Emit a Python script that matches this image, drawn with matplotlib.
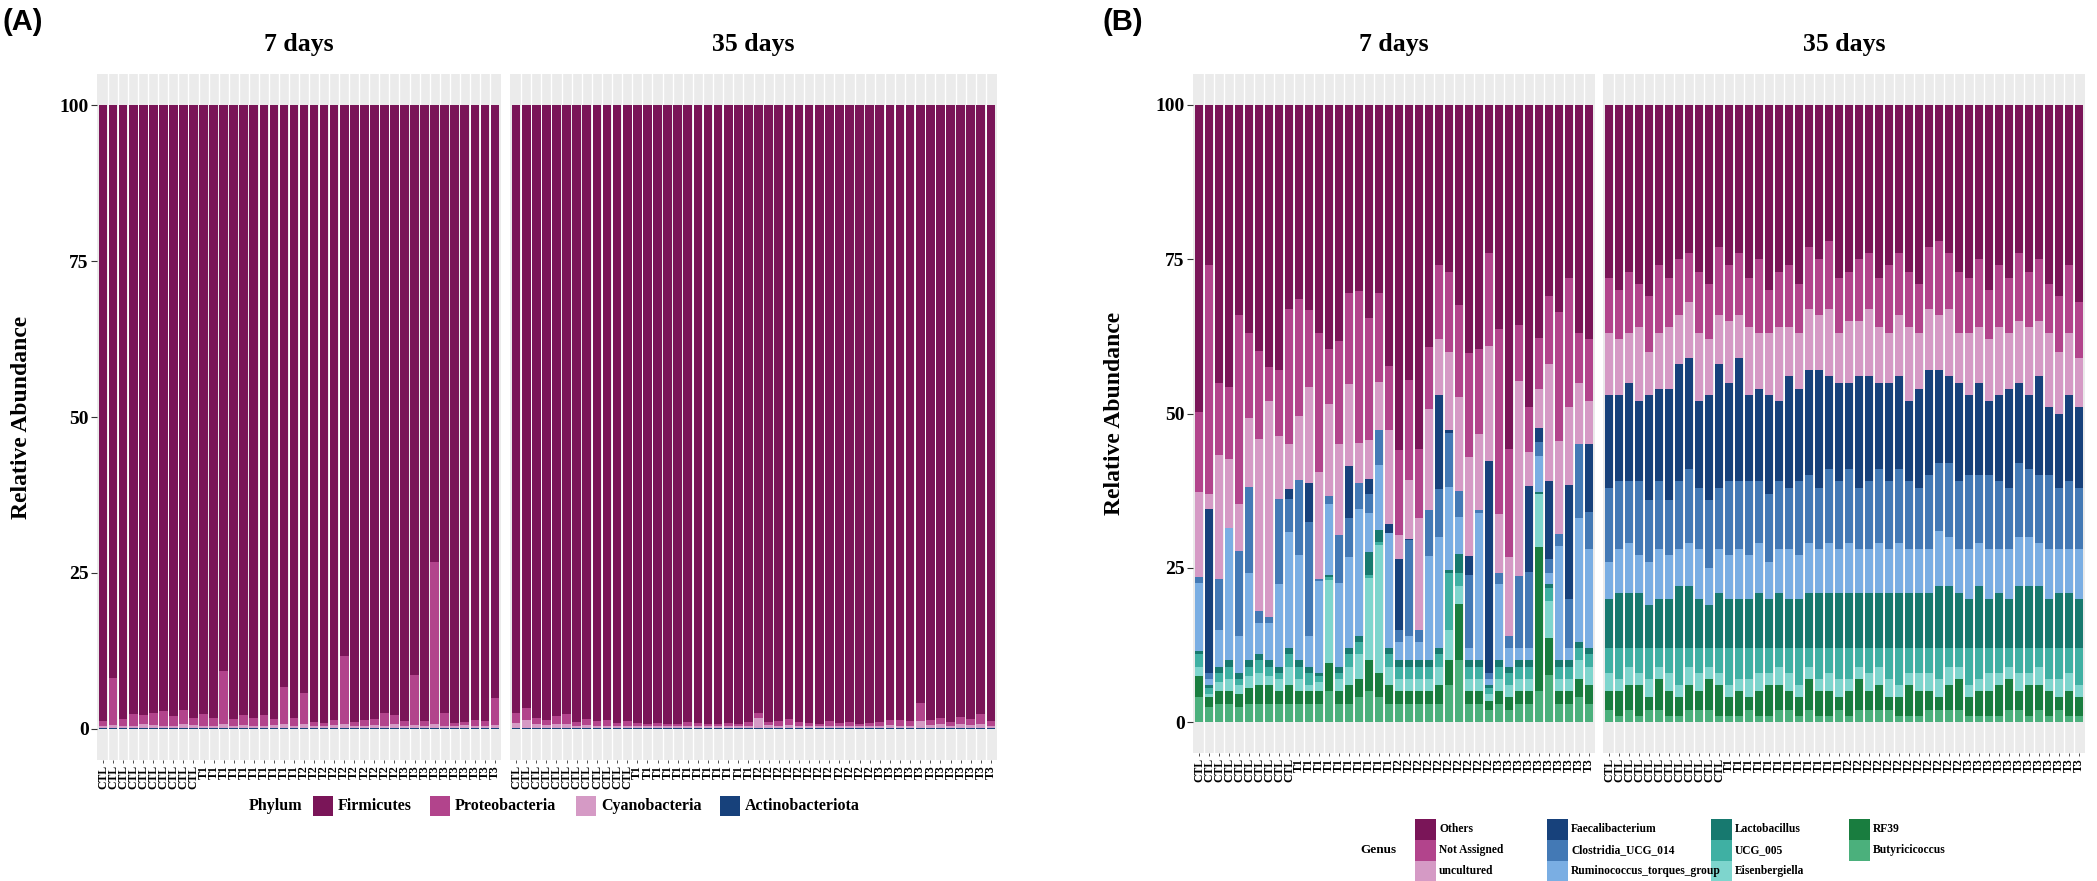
import numpy as np
import matplotlib
matplotlib.use("Agg")
import matplotlib.pyplot as plt
from matplotlib.patches import Rectangle

# ---------------- data ----------------
labels_7d = ["CTL"] * 10 + ["T1"] * 10 + ["T2"] * 10 + ["T3"] * 10
labels_35d = ["CTL"] * 12 + ["T1"] * 12 + ["T2"] * 12 + ["T3"] * 12

phyla = ["Firmicutes", "Proteobacteria", "Cyanobacteria", "Actinobacteriota"]
phylum_colors = ["#7A1558", "#B2448C", "#D59AC5", "#17417B"]

# panel A, 7 days
firm_7d = [98.7, 91.9, 98.4, 97.7, 97.8, 97.4, 97.1, 98.0, 97.0, 98.3,
           97.6, 98.2, 90.8, 98.5, 97.8, 98.3, 97.8, 98.5, 93.3, 98.3,
           94.2, 98.9, 99.0, 98.6, 88.3, 98.9, 98.6, 98.5, 97.4, 97.8,
           98.8, 91.4, 98.8, 73.3, 97.5, 99.0, 98.9, 98.6, 98.8, 95.1]
prot_7d = [0.8, 7.5, 1.2, 1.8, 1.5, 2.0, 2.4, 1.6, 2.2, 1.1,
           1.9, 1.4, 8.5, 1.0, 1.6, 1.3, 1.7, 0.9, 6.0, 1.2,
           5.0, 0.7, 0.5, 0.8, 11.0, 0.6, 1.0, 0.9, 2.1, 1.5,
           0.8, 8.0, 0.7, 26.0, 2.0, 0.6, 0.5, 0.9, 0.8, 4.3]
cyan_7d = [0.3, 0.4, 0.2, 0.3, 0.5, 0.4, 0.3, 0.2, 0.6, 0.4,
           0.3, 0.2, 0.5, 0.3, 0.4, 0.2, 0.3, 0.4, 0.5, 0.3,
           0.6, 0.2, 0.3, 0.4, 0.5, 0.3, 0.2, 0.4, 0.3, 0.5,
           0.2, 0.4, 0.3, 0.5, 0.3, 0.2, 0.4, 0.3, 0.2, 0.4]
acti_7d = [0.2] * 40

# panel A, 35 days
firm_35d = [97.5, 96.6, 98.3, 98.6, 98.0, 97.6, 98.9, 98.4, 98.8, 98.6, 99.1, 98.7,
            99.0, 99.2, 99.0, 99.3, 99.2, 98.9, 99.1, 99.2, 99.3, 99.0, 99.2, 98.9,
            97.5, 98.9, 98.8, 98.5, 98.9, 99.1, 99.2, 98.8, 99.1, 98.9, 99.2, 99.1,
            98.9, 98.6, 98.6, 98.8, 95.8, 98.6, 98.3, 98.9, 98.1, 98.5, 97.7, 98.8]
prot_35d = [1.5, 2.0, 1.0, 0.8, 1.2, 1.6, 0.6, 1.0, 0.7, 0.9, 0.5, 0.8,
            0.6, 0.4, 0.5, 0.3, 0.4, 0.6, 0.5, 0.4, 0.3, 0.5, 0.4, 0.6,
            0.8, 0.5, 0.7, 0.9, 0.6, 0.5, 0.4, 0.7, 0.5, 0.6, 0.4, 0.5,
            0.6, 0.8, 0.9, 0.7, 3.0, 0.8, 1.0, 0.6, 1.2, 0.9, 1.5, 0.7]
cyan_35d = [0.8, 1.2, 0.5, 0.4, 0.6, 0.6, 0.3, 0.4, 0.3, 0.3, 0.2, 0.3,
            0.2, 0.2, 0.3, 0.2, 0.2, 0.3, 0.2, 0.2, 0.2, 0.3, 0.2, 0.3,
            1.5, 0.4, 0.3, 0.4, 0.3, 0.2, 0.2, 0.3, 0.2, 0.3, 0.2, 0.2,
            0.3, 0.4, 0.3, 0.3, 1.0, 0.4, 0.5, 0.3, 0.5, 0.4, 0.6, 0.3]
acti_35d = [0.2] * 48

genera = ["Others", "Not Assigned", "uncultured", "Faecalibacterium",
          "Clostridia_UCG_014", "Ruminococcus_torques_group", "Lactobacillus",
          "UCG_005", "Eisenbergiella", "RF39", "Butyricicoccus"]
genus_colors = ["#7A1558", "#B2448C", "#D59AC5", "#17417B", "#4379B5", "#7AAEE3",
                "#17796F", "#3FB0A3", "#7ED5CD", "#197D3F", "#4BB07C"]

# panel B, 7 days
oth_7d = [49.7, 26, 45.1, 45.7, 34.1, 37.0, 39.9, 42.5, 42.9, 33.1, 31.4, 33.2, 36.9, 39.5,
          38.3, 30.4, 30.2, 34.6, 30.5, 42.3, 55.9, 44.5, 55.8, 39.2, 26, 27, 32.4, 40.2,
          39.5, 24, 36.3, 55.8, 35.6, 48.9, 37.7, 30.9, 33.6, 28, 37, 38]
na_7d = [13.0, 37.1, 11.7, 11.6, 30.5, 13.8, 14.3, 5.5, 10.8, 21.9, 19.0, 12.5, 22.6, 8.9,
         16.6, 14.9, 24.5, 19.7, 14.4, 10.3, 13.8, 16.3, 11.1, 10.1, 12.0, 13.1, 15.0, 16.9,
         13.9, 15.1, 30.0, 17.4, 9.2, 7.3, 8.3, 11.1, 20.9, 20.9, 8, 10]
unc_7d = [13.8, 2.3, 20.0, 11.2, 7.6, 11.1, 27.8, 35.0, 10.2, 7.2, 10.4, 15.5, 17.3, 15.0,
          14.8, 13.2, 6.5, 6.3, 7.8, 15.3, 3.8, 9.5, 18.1, 16.3, 9.0, 12.6, 15.2, 16.0,
          12.2, 18.6, 9.6, 12.8, 31.5, 5.6, 6.4, 18.9, 15.1, 12.7, 10, 7]
fae_7d = [0, 26.6, 0, 0, 0, 0, 0, 0, 0, 1.6, 0, 6.3, 0, 0,
          0, 8.5, 0, 2.4, 0, 1.4, 11.5, 0.2, 0, 0, 15.3, 0.5, 0, 3.1,
          0, 34.3, 0, 0, 0, 13.8, 2.2, 12.6, 0, 18.4, 0, 11]
clo_7d = [1.0, 1, 8.2, 0, 13.8, 14.0, 2, 1, 13.7, 5.4, 12.2, 18.5, 0.4, 1.2,
          7.8, 6.2, 4.2, 3.2, 5.6, 0, 2, 15.5, 2, 7.5, 7.7, 8.7, 4.2, 11.8,
          0.5, 1, 1.7, 2, 11.7, 12.4, 2.3, 2.4, 1.9, 8, 12, 6]
rum_7d = [11.0, 1, 6, 21.5, 6, 14.1, 5, 6, 13.4, 18.8, 17, 5, 14.8, 11.6,
          13.5, 14.8, 20.6, 6.3, 10.6, 18.7, 3, 4, 3, 16.9, 18, 13.5, 5.9, 2,
          23.9, 1, 12.4, 3, 2, 2, 5.8, 1.7, 18.5, 2, 20, 16]
lac_7d = [0.5, 0.5, 1, 1, 1, 1, 1, 1, 1, 1, 1, 1, 0.5, 0.3,
          1, 1, 1, 3.7, 1.9, 1, 1, 1, 1, 1, 1, 0.4, 3.2, 1,
          1, 0.5, 1, 1, 1, 1, 0.3, 0.7, 1, 1, 1, 1]
ucg_7d = [2.0, 1, 1.5, 2, 1, 1.5, 2, 1.5, 1, 2, 2, 2, 1, 0.5,
          1, 2, 2, 0.5, 0.5, 2, 2, 2, 2, 2, 2, 9.2, 2, 2,
          2, 1, 2, 2, 2, 2, 0, 2, 2, 2, 2, 2]
eis_7d = [1.5, 0.5, 1.5, 2, 1.5, 2, 2, 1.5, 2, 3, 2, 1, 1.5, 13.5,
          2, 3, 4, 13.3, 20.7, 3, 2, 2, 2, 2, 3, 5, 3, 2,
          2, 1, 2, 2, 2, 2, 8.6, 6, 2, 2, 3, 3]
rf_7d = [3.5, 1.5, 2, 2, 2, 2.5, 3, 3, 2, 3, 2, 2, 2, 4.5,
         2, 3, 3, 5, 4, 3, 2, 2, 2, 2, 3, 4, 9, 2,
         2, 1.5, 2, 2, 2, 2, 23.4, 6, 2, 2, 3, 3]
but_7d = [4.0, 2.5, 3, 3, 2.5, 3, 3, 3, 3, 3, 3, 3, 3, 5,
          3, 3, 4, 5, 4, 3, 3, 3, 3, 3, 3, 6, 10.1, 3,
          3, 2, 3, 2, 3, 3, 5, 7.7, 3, 3, 4, 3]

# panel B, 35 days
oth_35d = [28, 30, 27, 29, 31, 26, 28, 25, 24, 27, 29, 23, 26, 24, 28, 25, 30, 27, 26, 29, 23, 25, 22, 28,
           27, 25, 24, 28, 26, 24, 27, 29, 23, 22, 24, 27, 28, 25, 30, 26, 28, 24, 27, 25, 29, 31, 26, 32]
na_35d = [9, 8, 10, 7, 9, 11, 8, 9, 8, 10, 9, 11, 9, 10, 8, 12, 7, 9, 10, 8, 10, 9, 11, 9,
          8, 10, 9, 8, 11, 10, 9, 8, 10, 12, 9, 10, 9, 11, 8, 10, 9, 11, 9, 10, 8, 9, 11, 9]
unc_35d = [10, 9, 8, 12, 7, 9, 10, 8, 9, 11, 9, 8, 10, 7, 11, 9, 10, 12, 8, 9, 10, 9, 11, 8,
           10, 9, 11, 9, 8, 10, 12, 9, 10, 9, 11, 8, 10, 9, 10, 11, 9, 10, 11, 9, 12, 10, 10, 8]
fae_35d = [15, 14, 16, 13, 17, 15, 18, 19, 18, 14, 17, 20, 16, 20, 14, 15, 16, 13, 18, 15, 17, 19, 15, 16,
           14, 18, 17, 14, 16, 15, 13, 16, 17, 15, 14, 16, 13, 15, 12, 14, 16, 13, 12, 16, 11, 12, 14, 13]
clo_35d = [12, 11, 10, 12, 10, 11, 9, 11, 12, 10, 11, 10, 12, 11, 12, 10, 11, 11, 10, 12, 11, 10, 12, 11,
           12, 10, 11, 12, 11, 12, 11, 10, 12, 11, 12, 11, 12, 11, 12, 11, 10, 12, 11, 11, 12, 10, 11, 10]
rum_35d = [6, 7, 8, 6, 7, 8, 7, 6, 7, 8, 6, 7, 7, 8, 7, 8, 6, 7, 8, 7, 8, 7, 8, 7,
           8, 7, 7, 8, 7, 8, 7, 7, 7, 9, 8, 7, 8, 7, 8, 7, 8, 8, 8, 7, 8, 7, 7, 8]
lac_35d = [8, 9, 9, 9, 7, 8, 8, 10, 10, 8, 7, 9, 8, 8, 8, 9, 8, 9, 8, 8, 9, 9, 9, 9,
           9, 9, 9, 9, 9, 9, 9, 9, 9, 10, 10, 9, 8, 10, 8, 9, 8, 10, 10, 10, 8, 9, 9, 8]
ucg_35d = [4, 5, 3, 4, 5, 3, 4, 6, 3, 4, 3, 4, 6, 5, 5, 4, 4, 3, 4, 6, 3, 5, 4, 5,
           5, 3, 4, 3, 5, 6, 4, 4, 4, 5, 3, 3, 6, 5, 4, 4, 3, 4, 4, 3, 5, 5, 4, 6]
eis_35d = [3, 2, 3, 2, 3, 2, 3, 2, 3, 3, 2, 2, 2, 2, 3, 3, 2, 3, 3, 2, 2, 2, 3, 3,
           2, 2, 3, 3, 3, 2, 2, 3, 3, 3, 3, 2, 2, 2, 3, 2, 2, 3, 2, 3, 2, 3, 3, 2]
rf_35d = [3, 4, 4, 5, 2, 5, 4, 3, 4, 3, 5, 5, 3, 4, 2, 4, 5, 4, 3, 3, 5, 4, 4, 2,
          4, 5, 3, 4, 2, 3, 5, 4, 3, 2, 4, 5, 3, 4, 4, 5, 5, 3, 5, 4, 4, 2, 4, 3]
but_35d = [2, 1, 2, 1, 2, 2, 1, 1, 2, 2, 2, 1, 1, 1, 2, 1, 1, 2, 2, 1, 2, 1, 1, 2,
           1, 2, 2, 2, 2, 1, 1, 1, 2, 2, 2, 2, 1, 1, 1, 1, 2, 2, 1, 2, 1, 2, 1, 1]

# ---------------- figure ----------------
W, H = 2097, 881
fig = plt.figure(figsize=(W / 100, H / 100), dpi=100)
SERIF = "Liberation Serif"


def px_axes(x0, x1, ytop, ybot):
    return fig.add_axes([x0 / W, 1 - ybot / H, (x1 - x0) / W, (ybot - ytop) / H])


def draw_facet(ax, labels, series, colors, show_y):
    n = len(labels)
    x = np.arange(n)
    ax.set_facecolor("#EBEBEB")
    for b in np.arange(n - 1) + 0.5:
        ax.axvline(b, color="white", lw=1.0, zorder=0)
    bottom = np.zeros(n)
    # first series sits on top of the stack
    for vals, c in zip(reversed(series), reversed(colors)):
        vals = np.asarray(vals, dtype=float)
        ax.bar(x, vals, bottom=bottom, width=0.86, color=c, linewidth=0, zorder=2)
        bottom += vals
    ax.set_xlim(-0.6, n - 0.4)
    ax.set_ylim(-5, 105)
    for s in ax.spines.values():
        s.set_visible(False)
    ax.set_xticks(x)
    ax.set_xticklabels(labels, rotation=90, fontsize=8.5, fontweight="bold",
                       family=SERIF, va="top")
    ax.tick_params(axis="x", length=2.5, width=0.6, color="#333333", pad=1)
    if show_y:
        ax.set_yticks([0, 25, 50, 75, 100])
        ax.set_yticklabels(["0", "25", "50", "75", "100"], fontsize=14,
                           fontweight="bold", family=SERIF)
        ax.tick_params(axis="y", length=4, width=0.8, color="#333333", pad=2)
    else:
        ax.set_yticks([])


axA7 = px_axes(97, 501, 74, 760)
draw_facet(axA7, labels_7d, [firm_7d, prot_7d, cyan_7d, acti_7d], phylum_colors, True)
axA35 = px_axes(510, 997, 74, 760)
draw_facet(axA35, labels_35d, [firm_35d, prot_35d, cyan_35d, acti_35d], phylum_colors, False)

axB7 = px_axes(1193, 1595, 74, 753)
draw_facet(axB7, labels_7d,
           [oth_7d, na_7d, unc_7d, fae_7d, clo_7d, rum_7d, lac_7d, ucg_7d, eis_7d, rf_7d, but_7d],
           genus_colors, True)
axB35 = px_axes(1603, 2085, 74, 753)
draw_facet(axB35, labels_35d,
           [oth_35d, na_35d, unc_35d, fae_35d, clo_35d, rum_35d, lac_35d, ucg_35d, eis_35d, rf_35d, but_35d],
           genus_colors, False)


def ftext(x, y, s, **kw):
    fig.text(x / W, 1 - y / H, s, **kw)


# strip titles
strip_kw = dict(ha="center", va="center", fontsize=18.5, fontweight="bold", family=SERIF)
ftext(299, 45, "7 days", **strip_kw)
ftext(753, 45, "35 days", **strip_kw)
ftext(1394, 45, "7 days", **strip_kw)
ftext(1844, 45, "35 days", **strip_kw)

# y titles and panel tags
ftext(22, 417, "Relative Abundance", rotation=90, ha="center", va="center",
      fontsize=17, fontweight="bold", family=SERIF)
ftext(1115, 413, "Relative Abundance", rotation=90, ha="center", va="center",
      fontsize=17, fontweight="bold", family=SERIF)
ftext(2, 22, "(A)", ha="left", va="center", fontsize=21, fontweight="bold", family="Liberation Sans")
ftext(1103, 22, "(B)", ha="left", va="center", fontsize=21, fontweight="bold", family="Liberation Sans")


def key(x, y, color, size=20):
    fig.add_artist(Rectangle((x / W, 1 - (y + size / 2) / H), size / W, size / H,
                             transform=fig.transFigure, color=color, lw=0))


# legend A
ya = 806
ftext(249, ya, "Phylum", ha="left", va="center", fontsize=11.5, fontweight="bold", family=SERIF)
for name, col, kx in zip(phyla, phylum_colors, [313, 430, 576, 720]):
    key(kx, ya, col)
    ftext(kx + 25, ya, name, ha="left", va="center", fontsize=11.5, fontweight="bold", family=SERIF)

# legend B (filled by column, 3 rows)
ftext(1360, 850, "Genus", ha="left", va="center", fontsize=9.5, fontweight="bold", family=SERIF)
col_x = [1415, 1547, 1711, 1849]
row_y = [829, 850, 871]
for i, (name, col) in enumerate(zip(genera, genus_colors)):
    kx = col_x[i // 3]
    ky = row_y[i % 3]
    key(kx, ky, col, size=21)
    ftext(kx + 24, ky, name, ha="left", va="center", fontsize=8.3, fontweight="bold", family=SERIF)

fig.savefig("out.png", dpi=100)
